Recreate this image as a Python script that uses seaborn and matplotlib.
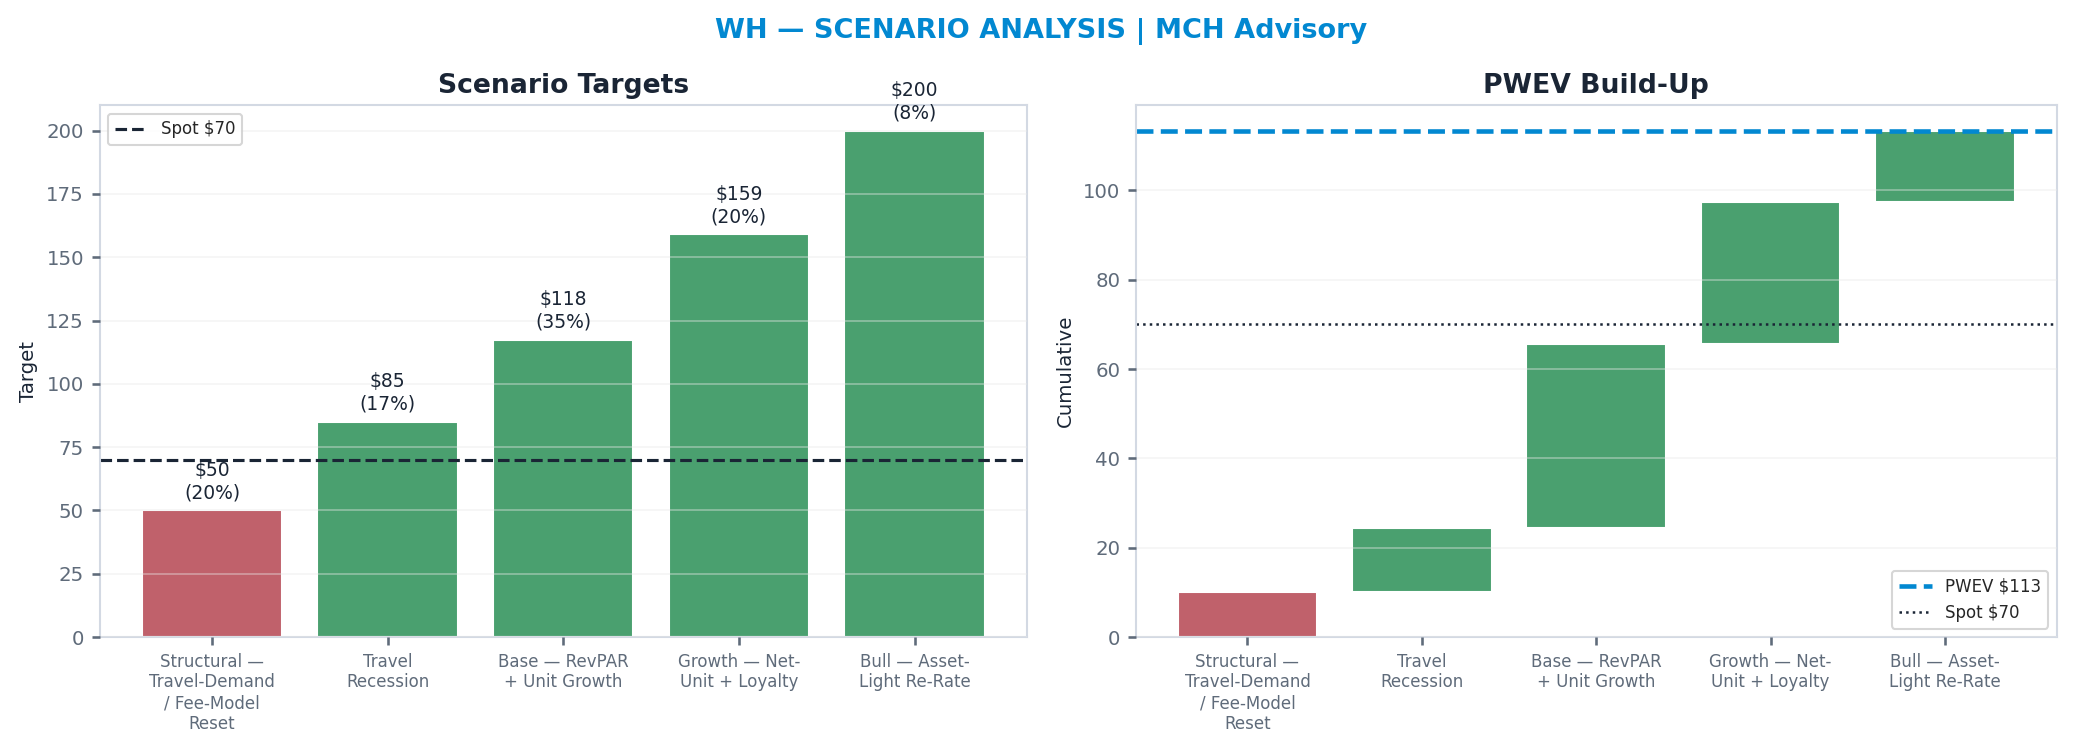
import textwrap
import numpy as np
import pandas as pd
import matplotlib
matplotlib.use('Agg')
import matplotlib.pyplot as plt
import seaborn as sns

# scenario data
scenarios = ['Structural — Travel-Demand / Fee-Model Reset', 'Travel Recession',
             'Base — RevPAR + Unit Growth', 'Growth — Net-Unit + Loyalty',
             'Bull — Asset-Light Re-Rate']
targets = [50, 85, 117.5, 159, 200]
probs = [0.20, 0.17, 0.35, 0.20, 0.08]
spot = 70

RED = '#c0616b'
GREEN = '#4aa06f'
BLUE = '#0288d1'
DARK = '#1a2535'
GREY = '#5f6b7a'
SPINE = '#d3d9e3'

labels = [textwrap.fill(s, 14) for s in scenarios]
bar_colors = [RED if t < spot else GREEN for t in targets]

contrib = np.array(targets) * np.array(probs)
cum_end = np.cumsum(contrib)
cum_start = cum_end - contrib
pwev = cum_end[-1]

df = pd.DataFrame({'scenario': labels, 'target': targets, 'contrib': contrib, 'start': cum_start})

sns.set_theme(style='whitegrid')
plt.rcParams['font.family'] = ['DejaVu Sans']

fig, (ax1, ax2) = plt.subplots(1, 2, figsize=(2083 / 150, 742 / 150), dpi=150)
ax1.set_position([0.0478, 0.1415, 0.4452, 0.7165])
ax2.set_position([0.5453, 0.1415, 0.4420, 0.7165])

# left: scenario targets
sns.barplot(data=df, x='scenario', y='target', hue='scenario', palette=bar_colors,
            order=labels, hue_order=labels, legend=False, width=0.8, ax=ax1, saturation=1)
ax1.axhline(spot, color=DARK, linestyle='--', linewidth=1.5, label=f'Spot ${spot}')
for i, (t, p) in enumerate(zip(targets, probs)):
    ax1.annotate(f'${t:.0f}\n({p * 100:.0f}%)', (i, t), xytext=(0, 4), textcoords='offset points',
                 ha='center', va='bottom', fontsize=9, color=DARK)
ax1.set_ylim(0, 210)
ax1.set_xlim(-0.64, 4.64)
ax1.set_title('Scenario Targets', fontsize=12.75, fontweight='bold', color=DARK)
ax1.set_xlabel('')
ax1.set_ylabel('Target', fontsize=9.5, color=DARK)
ax1.legend(loc='upper left', fontsize=8, frameon=True, edgecolor='#cccccc')

# right: PWEV waterfall
sns.barplot(data=df, x='scenario', y='contrib', order=labels, color=GREEN, saturation=1,
            width=0.8, bottom=df['start'].values, ax=ax2)
for patch, c in zip(ax2.patches, bar_colors):
    patch.set_facecolor(c)
ax2.axhline(pwev, color=BLUE, linestyle='--', linewidth=2.2, label=f'PWEV ${pwev:.0f}')
ax2.axhline(spot, color=DARK, linestyle=':', linewidth=1.2, label=f'Spot ${spot}')
ax2.set_ylim(0, pwev * 1.05)
ax2.set_xlim(-0.64, 4.64)
ax2.set_title('PWEV Build-Up', fontsize=12.75, fontweight='bold', color=DARK)
ax2.set_xlabel('')
ax2.set_ylabel('Cumulative', fontsize=9.5, color=DARK)
ax2.legend(loc='lower right', fontsize=8, frameon=True, edgecolor='#cccccc')

for ax in (ax1, ax2):
    ax.set_axisbelow(False)
    ax.grid(axis='y', color='#e8e8e8', alpha=0.45, linewidth=0.8)
    ax.grid(axis='x', visible=False)
    for s in ax.spines.values():
        s.set_color(SPINE)
        s.set_linewidth(1.0)
    ax.tick_params(axis='y', labelsize=9.5, colors=GREY, left=True, length=4, color=GREY)
    ax.tick_params(axis='x', labelsize=8, colors=GREY, bottom=True, length=4, color=GREY)

fig.suptitle('WH — SCENARIO ANALYSIS | MCH Advisory', fontsize=13, fontweight='bold',
             color=BLUE, y=0.976)

fig.savefig('out.png', dpi=150)
